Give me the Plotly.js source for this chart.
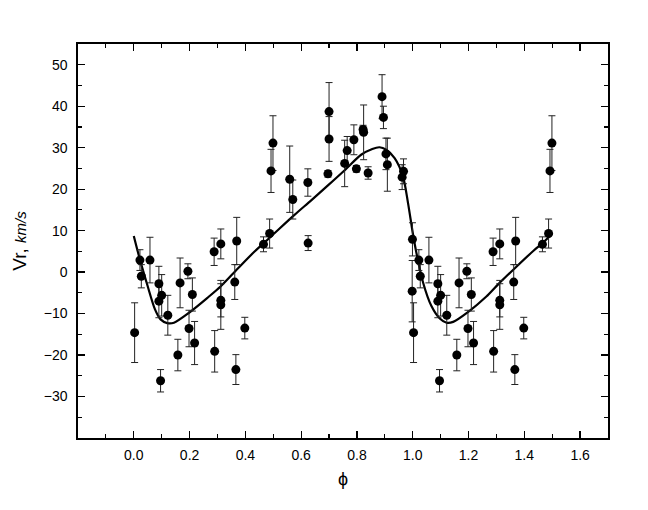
<!DOCTYPE html>
<html>
<head>
<meta charset="utf-8">
<script src="https://cdn.plot.ly/plotly-3.0.1.min.js"></script>
<style>html,body{margin:0;padding:0;background:#fff;}#chart{width:648px;height:510px;}</style>
</head>
<body>
<div id="chart"></div>
<script>
// Observed radial velocities (phase, Vr km/s, error)
const phase = [0.003, 0.022, 0.027, 0.058, 0.090, 0.090, 0.100, 0.096, 0.122, 0.158,
  0.166, 0.194, 0.210, 0.198, 0.218, 0.288, 0.312, 0.312, 0.312, 0.290,
  0.369, 0.362, 0.366, 0.398, 0.465, 0.487, 0.492, 0.499, 0.559, 0.570,
  0.624, 0.625, 0.700, 0.700, 0.696, 0.756, 0.765, 0.789, 0.798, 0.824,
  0.822, 0.840, 0.890, 0.895, 0.904, 0.909, 0.967, 0.962, 0.998, 0.999];
const vr = [-14.6, 2.9, -1.0, 2.9, -2.8, -7.0, -5.6, -26.2, -10.4, -20.0,
  -2.6, 0.2, -5.4, -13.6, -17.1, 4.9, 6.8, -6.8, -7.9, -19.1,
  7.5, -2.4, -23.5, -13.5, 6.7, 9.3, 24.4, 31.1, 22.4, 17.5,
  21.6, 7.0, 38.7, 32.1, 23.7, 26.2, 29.3, 31.9, 24.9, 33.7,
  34.4, 23.9, 42.3, 37.3, 28.5, 25.9, 24.3, 22.9, -4.6, 7.9];
const vrErr = [7.2, 2.5, 2.8, 5.5, 4.2, 4.0, 5.0, 2.7, 4.8, 3.8,
  6.0, 1.8, 4.0, 4.4, 5.2, 3.3, 3.6, 4.0, 5.9, 5.0,
  5.7, 4.2, 3.6, 2.6, 1.8, 3.5, 5.2, 6.6, 8.0, 4.7,
  3.3, 1.8, 7.0, 5.4, 0.8, 5.6, 3.4, 3.6, 0.8, 6.6,
  1.0, 1.5, 5.3, 2.7, 3.8, 6.4, 3.0, 3.0, 7.4, 4.0];

// Fitted curve
const curveX = [0, 0.022, 0.048, 0.076, 0.096, 0.12, 0.144, 0.198, 0.264, 0.312,
  0.372, 0.432, 0.492, 0.576, 0.636, 0.696, 0.755, 0.815, 0.855, 0.881,
  0.905, 0.935, 0.965, 0.983, 1.0, 1.013, 1.037, 1.067, 1.097, 1.121,
  1.145, 1.199, 1.264, 1.307, 1.367, 1.432, 1.469, 1.5];
const curveY = [8.7, 3.0, -3.0, -9.0, -11.4, -12.3, -12.2, -9.8, -6.2, -3.4,
  0.8, 4.9, 8.6, 13.8, 17.3, 20.9, 24.5, 28.3, 29.7, 30.1,
  29.5, 27.5, 23.1, 16.7, 9.5, 4.7, -2.5, -8.2, -11.2, -12.2,
  -12.0, -9.6, -5.9, -2.9, 1.0, 5.1, 7.2, 9.3];

const xTickVals = [0, 0.2, 0.4, 0.6, 0.8, 1.0, 1.2, 1.4, 1.6];
const xTickText = ["0.0", "0.2", "0.4", "0.6", "0.8", "1.0", "1.2", "1.4", "1.6"];
const yTickVals = [-30, -20, -10, 0, 10, 20, 30, 40, 50];

// phases below 0.5 are repeated one cycle later
const px = [], py = [], pe = [];
for (let i = 0; i < phase.length; i++) { px.push(phase[i]); py.push(vr[i]); pe.push(vrErr[i]); }
for (let i = 0; i < phase.length; i++) {
  if (phase[i] < 0.5) { px.push(phase[i] + 1); py.push(vr[i]); pe.push(vrErr[i]); }
}

const traces = [
  {x: curveX, y: curveY, type: 'scatter', mode: 'lines', line: {color: '#000', width: 2.2, shape: 'spline', smoothing: 0.8}, hoverinfo: 'skip'},
  {x: px, y: py, type: 'scatter', mode: 'markers', marker: {color: '#000', size: 9},
   error_y: {type: 'data', array: pe, visible: true, color: '#222', thickness: 1, width: 3.5}}
];

const axisCommon = {showline: true, linecolor: '#000', linewidth: 1.6, mirror: 'ticks', ticks: 'inside',
  ticklen: 7, tickwidth: 1.3, tickcolor: '#000', showgrid: false, zeroline: false,
  tickfont: {family: 'Liberation Sans, Arial, sans-serif', size: 14, color: '#000'}};

const layout = {
  width: 648, height: 510,
  margin: {l: 78, r: 40, t: 44, b: 72},
  paper_bgcolor: '#fff', plot_bgcolor: '#fff',
  showlegend: false,
  font: {family: 'Liberation Sans, Arial, sans-serif', color: '#000'},
  xaxis: Object.assign({}, axisCommon, {range: [-0.2, 1.7], tickvals: xTickVals, ticktext: xTickText,
    minor: {ticks: 'inside', tickvals: [-0.1, 0.1, 0.3, 0.5, 0.7, 0.9, 1.1, 1.3, 1.5], ticklen: 4, tickwidth: 1.2, tickcolor: '#000'},
    ticklabelstandoff: 4,
    title: {text: 'ϕ', font: {size: 18, family: 'Liberation Sans, Arial, sans-serif'}, standoff: 10}}),
  yaxis: Object.assign({}, axisCommon, {range: [-40, 55], tickvals: yTickVals,
    minor: {ticks: 'inside', tickvals: [-35, -25, -15, -5, 5, 15, 25, 35, 45], ticklen: 4, tickwidth: 1.2, tickcolor: '#000'},
    ticklabelstandoff: 6,
    title: {text: 'Vr, <i><span style="font-size:15px">km/s</span></i>', font: {size: 19}, standoff: 12}})
};

Plotly.newPlot('chart', traces, layout, {staticPlot: true, displayModeBar: false});
</script>
</body>
</html>
